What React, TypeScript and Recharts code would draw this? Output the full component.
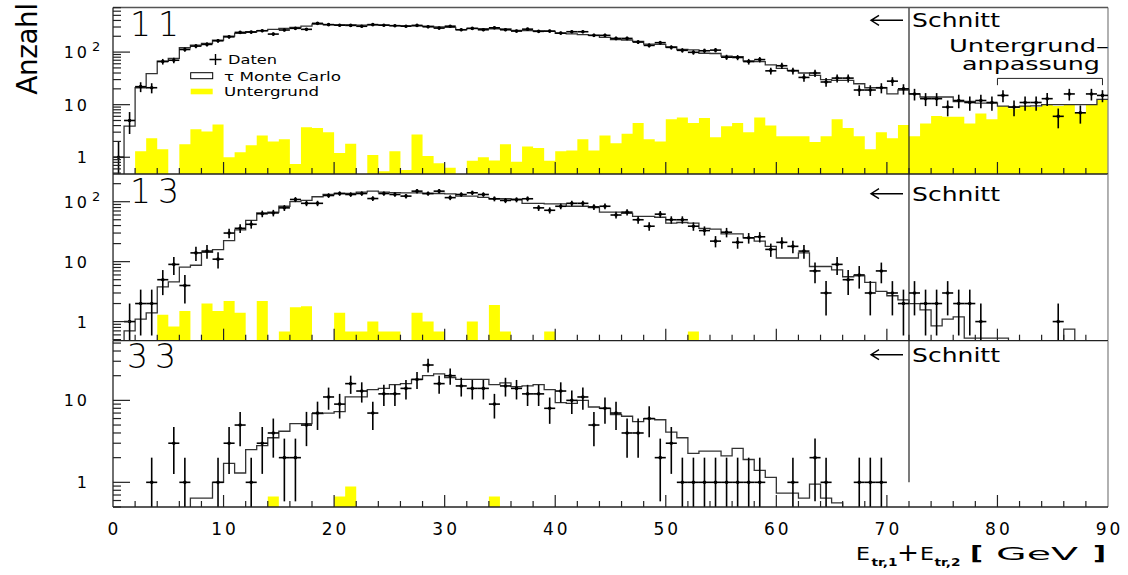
import React from 'react';
import { ComposedChart, Line, Area, Scatter, ErrorBar, XAxis, YAxis, ReferenceLine } from 'recharts';

const FONT = '"DejaVu Sans", sans-serif';
const AXIS = '#222';
const FLOOR = 0.01; // empty bins sit below the log axis and get clipped

// 90 bins of 1 GeV, 0..90 GeV
const xTicks = [0, 2, 4, 6, 8, 10, 12, 14, 16, 18, 20, 22, 24, 26, 28, 30, 32, 34, 36, 38, 40, 42, 44, 46, 48, 50, 52, 54, 56, 58, 60, 62, 64, 66, 68, 70, 72, 74, 76, 78, 80, 82, 84, 86, 88, 90];
const yTicks11 = [0.5, 0.6, 0.7, 0.8, 0.9, 1, 2, 3, 4, 5, 6, 7, 8, 9, 10, 20, 30, 40, 50, 60, 70, 80, 90, 100, 200, 300, 400, 500, 600, 700];
const yTicks13 = [0.5, 0.6, 0.7, 0.8, 0.9, 1, 2, 3, 4, 5, 6, 7, 8, 9, 10, 20, 30, 40, 50, 60, 70, 80, 90, 100, 200];
const yTicks33 = [0.5, 0.6, 0.7, 0.8, 0.9, 1, 2, 3, 4, 5, 6, 7, 8, 9, 10, 20, 30, 40, 50];

const CUT = 72;
const BRACKET = { from: 80, to: 89.5, top: 31.6, low: 23.5 };

// topology 11
const daten11 = [
  1, 5, 22, 21, 66, 70, 112, 130, 140, 164,
  195, 237, 240, 255, 220, 263, 283, 271, 352, 333,
  325, 322, 310, 333, 325, 318, 311, 322, 303, 286,
  311, 266, 282, 266, 290, 266, 251, 273, 248, 251,
  230, 244, 244, 208, 208, 182, 182, 155, 134, 151,
  123, 108, 99, 106, 109, 80, 79, 66, 72, 44,
  55, 44, 33, 40, 27, 32, 32, 19, 19, 21,
  28, 20, 16, 13, 13, 9, 12, 11, 12, 11,
  15, 9, 11, 11, 13, 6, 16, 7, 16, 15,
];
const mc11 = [
  0, 3.9, 21, 39, 67, 76, 121, 136, 146, 169,
  202, 227, 244, 255, 271, 282, 295, 313, 340, 332,
  330, 328, 325, 330, 325, 318, 316, 314, 310, 300,
  295, 268, 282, 280, 278, 275, 258, 255, 252, 248,
  228, 222, 215, 208, 190, 172, 170, 160, 142, 140,
  125, 112, 110, 95, 94, 84, 82, 68, 66, 57,
  49, 45, 40, 36, 30, 29, 29, 25, 21, 21,
  16, 19, 16, 14, 14, 14, 11.5, 11.5, 10.7, 10.7,
  9.4, 9.0, 9.4, 9.5, 10, 10, 10, 10, 10, 12.6,
];
const bg11 = [
  0, 0, 1.3, 2.3, 1.42, 0, 1.77, 3.4, 3.1, 4.2,
  1.0, 1.25, 1.7, 2.6, 2.0, 2.2, 0.74, 3.7, 3.6, 3.0,
  1.2, 1.8, 0, 1.1, 0.54, 1.3, 0.57, 2.7, 1.06, 0.77,
  0.63, 0, 0.86, 1.0, 0.87, 1.77, 0.82, 1.6, 1.5, 0.86,
  1.3, 1.35, 2.2, 1.35, 2.6, 1.85, 2.8, 4.5, 2.2, 2.0,
  5.3, 5.7, 4.5, 5.6, 2.4, 3.9, 4.5, 3.0, 5.7, 4.0,
  2.5, 2.5, 2.5, 1.96, 2.5, 5.3, 3.6, 2.5, 1.42, 3.0,
  2.3, 4.1, 2.5, 4.4, 6.1, 5.9, 5.9, 4.4, 6.8, 5.3,
  9.4, 8.5, 9.4, 9.0, 10, 9.4, 10, 7.0, 10, 12.6,
];

// topology 13
const daten13 = [
  0, 1, 2, 2, 5, 9, 4, 14, 15, 11,
  30, 36, 42, 63, 65, 79, 109, 94, 94, 127,
  137, 132, 137, 113, 137, 132, 124, 150, 137, 150,
  117, 132, 141, 132, 112, 105, 108, 112, 79, 72,
  84, 94, 94, 82, 84, 60, 67, 50, 39, 62,
  50, 50, 39, 33, 22, 31, 21, 25, 26, 16,
  21, 18, 15, 7, 3, 9, 5, 6, 3, 7,
  3, 2, 3, 2, 2, 3, 2, 2, 1, 0,
  0, 0, 0, 0, 0, 1, 0, 0, 0, 0,
];
const mc13 = [
  0, 0.7, 1.1, 1.4, 3.8, 4.6, 8.1, 8.7, 14.3, 15.9,
  22.5, 34, 49, 65, 67, 84, 100, 105, 121, 132,
  137, 137, 145, 150, 145, 142, 140, 140, 137, 137,
  135, 124, 124, 118, 112, 112, 110, 94, 94, 92,
  92, 84, 84, 80, 67, 67, 64, 57, 57, 55,
  44, 45, 44, 36, 35, 29, 29, 25, 22, 18,
  11.5, 11.5, 14, 8.3, 8.3, 7.3, 5.6, 5.8, 4.5, 3.2,
  2.7, 2.3, 2.0, 1.57, 0.85, 1.1, 1.2, 0.53, 0.53, 0.53,
  0.53, 0, 0, 0, 0, 0, 0.75, 0, 0, 0,
];
const bg13 = [
  0, 0, 0, 0, 1.3, 0.83, 1.5, 0, 2.0, 1.5,
  2.2, 1.4, 0, 2.2, 0, 0.68, 1.74, 1.8, 0, 0,
  1.4, 0.68, 0.68, 1.0, 0.68, 0.68, 0, 1.4, 1.0, 0.68,
  0, 0, 1.0, 0, 1.9, 0.68, 0, 0, 0, 0.68,
  0, 0, 0, 0, 0, 0, 0, 0, 0, 0,
  0, 0, 0.68, 0, 0, 0, 0, 0, 0, 0,
  0, 0, 0, 0, 0, 0, 0, 0, 0, 0,
  0, 0, 0, 0, 0, 0, 0, 0, 0, 0,
  0, 0, 0, 0, 0, 0, 0, 0, 0, 0,
];

// topology 33
const daten33 = [
  0, 0, 0, 1, 0, 3, 1, 0, 0, 1,
  3, 5, 1, 3, 4, 2, 2, 5, 7, 11,
  9, 16, 13, 7, 12, 12, 14, 18, 27, 16,
  20, 15, 14, 14, 9, 15, 14, 12, 12, 8,
  13, 10, 11, 5, 8, 7, 4, 4, 6, 2,
  3, 1, 1, 1, 1, 1, 1, 1, 1, 0,
  0, 1, 0, 2, 1, 0, 0, 1, 1, 1,
  0, 0, 0, 0, 0, 0, 0, 0, 0, 0,
  0, 0, 0, 0, 0, 0, 0, 0, 0, 0,
];
const mc33 = [
  0, 0, 0, 0, 0, 0, 0, 0.64, 0.64, 1.0,
  1.7, 1.3, 2.5, 2.8, 3.5, 4.2, 5.2, 5.2, 6.9, 7,
  7.3, 11, 11, 13.5, 14, 15.6, 16, 18, 20, 21,
  19, 18, 18, 18, 15.6, 16.3, 14.7, 15, 15.6, 13.5,
  9.4, 9.2, 10, 8.3, 8, 6.7, 6.4, 5.5, 6, 5.8,
  4.1, 3.5, 2.26, 2.4, 2.4, 2.1, 2.6, 1.9, 1.4, 1.15,
  0.74, 0.74, 0.64, 0.95, 0.64, 0.56, 0, 0, 0, 0,
  0, 0, 0, 0, 0, 0, 0, 0, 0, 0,
  0, 0, 0, 0, 0, 0, 0, 0, 0, 0,
];
const bg33 = [
  0, 0, 0, 0, 0, 0, 0, 0, 0, 0,
  0, 0, 0, 0, 0.67, 0, 0, 0, 0, 0,
  0.67, 0.89, 0, 0, 0, 0, 0, 0, 0, 0,
  0, 0, 0, 0, 0.67, 0, 0, 0, 0, 0,
  0, 0, 0, 0, 0, 0, 0, 0, 0, 0,
  0, 0, 0, 0, 0, 0, 0, 0, 0, 0,
  0, 0, 0, 0, 0, 0, 0, 0, 0, 0,
  0, 0, 0, 0, 0, 0, 0, 0, 0, 0,
  0, 0, 0, 0, 0, 0, 0, 0, 0, 0,
];

// histogram edges for step drawing (last edge repeats the last bin)
const edgeRows = (mc: number[], bg: number[]) => {
  const rows = mc.map((m, i) => ({ e: i, mc: m > 0 ? m : FLOOR, bg: bg[i] > 0 ? bg[i] : FLOOR }));
  rows.push({ e: mc.length, mc: rows[rows.length - 1].mc, bg: rows[rows.length - 1].bg });
  return rows;
};

// data points with sqrt(N) errors; the lower end stops at the axis floor
const pointRows = (d: number[], lo: number) =>
  d
    .map((n, i) => ({
      e: i + 0.5,
      n,
      ex: 0.5,
      ey: [n - Math.max(n - Math.sqrt(n), lo), Math.sqrt(n)],
    }))
    .filter((r) => r.n > 0);

const XTick = (props: any) => {
  const { x, y, payload, showLabel } = props;
  const v = payload.value;
  const major = v % 10 === 0;
  return (
    <g>
      {v > 0 && v < 90 && (
        <line x1={x} x2={x} y1={y} y2={y - (major ? 12 : 6)} stroke={AXIS} strokeWidth={1.2} />
      )}
      {showLabel && major && (
        <text x={x + 1.5} y={y + 27.5} textAnchor="middle" fontSize={17} letterSpacing={3} fontFamily={FONT} fill="#000">
          {v}
        </text>
      )}
    </g>
  );
};

const YTick = (props: any) => {
  const { x, y, payload } = props;
  const v = payload.value;
  const lg = Math.log10(v);
  const e = Math.round(lg);
  const major = Math.abs(lg - e) < 1e-9;
  const txt = { fontSize: 16, letterSpacing: 3, fontFamily: FONT, fill: '#000' };
  return (
    <g>
      <line x1={x} x2={x + (major ? 17 : 8)} y1={y} y2={y} stroke={AXIS} strokeWidth={1.2} />
      {major && e < 2 && (
        <text x={x - 23} y={y + 6} textAnchor="end" {...txt}>
          {e === 0 ? '1' : '10'}
        </text>
      )}
      {major && e === 2 && (
        <g>
          <text x={x - 23} y={y + 6} textAnchor="end" {...txt}>10</text>
          <text x={x - 21} y={y - 1} fontSize={13} fontFamily={FONT} fill="#000">2</text>
        </g>
      )}
    </g>
  );
};

type PanelProps = {
  top: number;
  height: number;
  marginTop: number;
  xHeight: number;
  domain: [number, number];
  yTicks: number[];
  daten: number[];
  mc: number[];
  bg: number[];
  xLabels: boolean;
  cutFrom?: number;
  frameTop?: boolean;
  bracket?: boolean;
};

const Panel = ({ top, height, marginTop, xHeight, domain, yTicks, daten, mc, bg, xLabels, cutFrom, frameTop, bracket }: PanelProps) => {
  const edges = edgeRows(mc, bg);
  const points = pointRows(daten, domain[0]);
  return (
    <ComposedChart
      width={1128}
      height={height}
      data={edges}
      margin={{ top: marginTop, right: 20, bottom: 0, left: 0 }}
      style={{ position: 'absolute', left: 0, top }}
    >
      <XAxis
        dataKey="e"
        type="number"
        domain={[0, 90]}
        ticks={xTicks}
        interval={0}
        height={xHeight}
        tickSize={0}
        tickMargin={0}
        tickLine={false}
        axisLine={{ stroke: AXIS, strokeWidth: 1.3 }}
        tick={(p: any) => <XTick {...p} showLabel={xLabels} />}
        allowDataOverflow
      />
      <YAxis
        type="number"
        scale="log"
        domain={domain}
        ticks={yTicks}
        interval={0}
        width={113}
        tickSize={0}
        tickMargin={0}
        tickLine={false}
        axisLine={{ stroke: AXIS, strokeWidth: 1.3 }}
        tick={(p: any) => <YTick {...p} />}
        allowDataOverflow
      />
      <Area dataKey="bg" type="stepAfter" fill="#ffff00" fillOpacity={1} stroke="none" isAnimationActive={false} />
      {cutFrom === undefined ? (
        <ReferenceLine x={CUT} stroke="#222" strokeWidth={1.2} />
      ) : (
        <ReferenceLine segment={[{ x: CUT, y: cutFrom }, { x: CUT, y: domain[1] }]} stroke="#222" strokeWidth={1.2} />
      )}
      <ReferenceLine x={90} stroke="#888" strokeWidth={1.3} />
      {frameTop && <ReferenceLine y={domain[1]} stroke="#555" strokeWidth={1.3} />}
      {bracket && (
        <ReferenceLine segment={[{ x: BRACKET.from, y: BRACKET.top }, { x: BRACKET.to, y: BRACKET.top }]} stroke="#222" strokeWidth={1} />
      )}
      {bracket && (
        <ReferenceLine segment={[{ x: BRACKET.from, y: BRACKET.top }, { x: BRACKET.from, y: BRACKET.low }]} stroke="#222" strokeWidth={1} />
      )}
      {bracket && (
        <ReferenceLine segment={[{ x: BRACKET.to, y: BRACKET.top }, { x: BRACKET.to, y: BRACKET.low }]} stroke="#222" strokeWidth={1} />
      )}
      <Line dataKey="mc" type="stepAfter" stroke="#333" strokeWidth={1.3} dot={false} isAnimationActive={false} />
      <Scatter
        data={points}
        dataKey="n"
        isAnimationActive={false}
        shape={(p: any) => <circle cx={p.cx} cy={p.cy} r={1.8} fill="#000" />}
      >
        <ErrorBar dataKey="ex" direction="x" width={0} stroke="#000" strokeWidth={1.6} isAnimationActive={false} />
        <ErrorBar dataKey="ey" direction="y" width={0} stroke="#000" strokeWidth={1.6} isAnimationActive={false} />
      </Scatter>
    </ComposedChart>
  );
};

// wide lettering like the original, stretched to a measured width
const Wide = ({ x, y, w, size, bold, children }: { x: number; y: number; w: number; size: number; bold?: boolean; children: React.ReactNode }) => (
  <text x={x} y={y} fontSize={size} fontWeight={bold ? 'bold' : 'normal'} textLength={w} lengthAdjust="spacingAndGlyphs">
    {children}
  </text>
);

const Schnitt = ({ y }: { y: number }) => (
  <g>
    <path d={`M903,${y - 7} H871 M879,${y - 12} L871,${y - 7} L879,${y - 2}`} stroke="#000" strokeWidth={1.4} fill="none" />
    <Wide x={912} y={y} w={88} size={19}>Schnitt</Wide>
  </g>
);

const bigLabel = { fontSize: 33, fontWeight: 200, letterSpacing: 7 };

export default function App() {
  return (
    <div style={{ position: 'absolute', left: 0, top: 0, width: 1128, height: 575, background: '#fff' }}>
      <Panel top={0} height={176} marginTop={7.5} xHeight={2} domain={[0.48, 705]} yTicks={yTicks11}
        daten={daten11} mc={mc11} bg={bg11} xLabels={false} frameTop bracket />
      <Panel top={174} height={168.7} marginTop={0} xHeight={2} domain={[0.48, 290]} yTicks={yTicks13}
        daten={daten13} mc={mc13} bg={bg13} xLabels={false} />
      <Panel top={340.7} height={234} marginTop={0} xHeight={68} domain={[0.5, 53]} yTicks={yTicks33}
        daten={daten33} mc={mc33} bg={bg33} xLabels cutFrom={1} />
      <svg width={1128} height={575} style={{ position: 'absolute', left: 0, top: 0, pointerEvents: 'none' }} fontFamily={FONT} fill="#000">
        <text transform="translate(37,49) rotate(-90)" textAnchor="middle" fontSize={28} letterSpacing={-0.5}>Anzahl</text>

        <text x={130} y={36} {...bigLabel}>11</text>
        <text x={130} y={203} {...bigLabel}>13</text>
        <text x={127} y={368} {...bigLabel}>33</text>

        <path d="M209.5,59.5 H221.5 M215.5,54 V65" stroke="#000" strokeWidth={1.4} />
        <Wide x={228} y={64} w={49} size={13}>Daten</Wide>
        <rect x={190.7} y={72.7} width={22} height={6} fill="#fff" stroke="#000" strokeWidth={1} />
        <Wide x={224} y={81} w={117} size={13}>τ Monte Carlo</Wide>
        <rect x={190.7} y={88.7} width={22} height={5.6} fill="#ffff00" />
        <Wide x={224} y={96} w={95} size={13}>Untergrund</Wide>

        <Schnitt y={27.3} />
        <Schnitt y={200.7} />
        <Schnitt y={361.7} />

        <Wide x={949} y={51.5} w={160} size={17}>Untergrund–</Wide>
        <Wide x={962} y={69.5} w={138} size={17}>anpassung</Wide>

        <Wide x={856} y={560} w={14} size={18}>E</Wide>
        <Wide x={871.5} y={566} w={26} size={11} bold>tr,1</Wide>
        <Wide x={897} y={561} w={22} size={25}>+</Wide>
        <Wide x={920} y={560} w={14} size={18}>E</Wide>
        <Wide x={934.5} y={566} w={26} size={11} bold>tr,2</Wide>
        <Wide x={970} y={560} w={13} size={19} bold>[</Wide>
        <Wide x={996} y={560} w={82} size={18}>GeV</Wide>
        <Wide x={1093} y={560} w={13} size={19} bold>]</Wide>
      </svg>
    </div>
  );
}
